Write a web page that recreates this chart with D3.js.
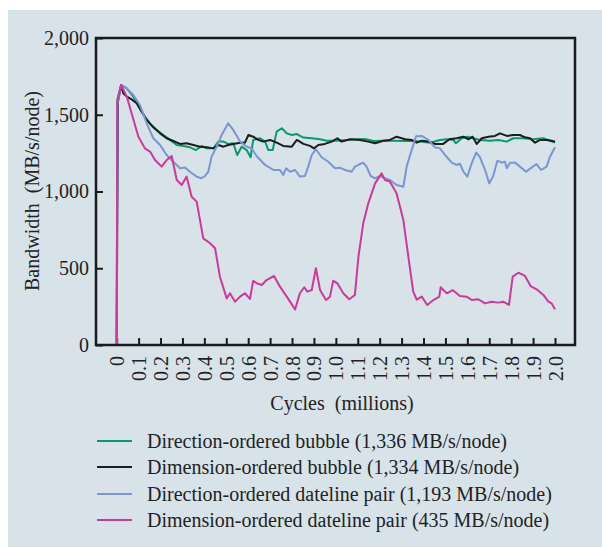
<!DOCTYPE html>
<html><head><meta charset="utf-8">
<script src="https://cdn.jsdelivr.net/npm/d3@7"></script>
<style>
html,body{margin:0;padding:0;background:#fff;}
svg{display:block;}
text{font-family:"Liberation Serif","Times New Roman",serif;fill:#222;}
</style></head>
<body>
<svg id="chart" width="602" height="547"></svg>
<script>
const xTicks = [0,0.1,0.2,0.3,0.4,0.5,0.6,0.7,0.8,0.9,1.0,1.1,1.2,1.3,1.4,1.5,1.6,1.7,1.8,1.9,2.0];
const xTickLabels = ["0","0.1","0.2","0.3","0.4","0.5","0.6","0.7","0.8","0.9","1.0","1.1","1.2","1.3","1.4","1.5","1.6","1.7","1.8","1.9","2.0"];
const yTicks = [0,500,1000,1500,2000];
const yTickLabels = ["0","500","1,000","1,500","2,000"];
const seriesNames = [
  "Direction-ordered bubble (1,336 MB/s/node)",
  "Dimension-ordered bubble (1,334 MB/s/node)",
  "Direction-ordered dateline pair (1,193 MB/s/node)",
  "Dimension-ordered dateline pair (435 MB/s/node)"
];
const seriesColors = ["#08996c","#1c1c1c","#7b96d0","#cf3898"];

const dirBubble = [[0,0],[0.003,1600],[0.02,1694],[0.046,1672],[0.076,1618],[0.106,1542],[0.129,1487],[0.152,1444],[0.183,1401],[0.213,1368],[0.243,1336],[0.274,1303],[0.304,1297],[0.334,1288],[0.362,1270],[0.388,1297],[0.411,1281],[0.441,1281],[0.464,1325],[0.487,1325],[0.509,1310],[0.532,1314],[0.550,1238],[0.570,1292],[0.593,1270],[0.611,1223],[0.623,1336],[0.654,1347],[0.677,1325],[0.692,1270],[0.712,1270],[0.730,1390],[0.753,1412],[0.776,1379],[0.799,1368],[0.822,1374],[0.852,1351],[0.890,1347],[0.928,1340],[0.958,1331],[1.004,1331],[1.049,1336],[1.095,1340],[1.133,1342],[1.171,1329],[1.217,1331],[1.262,1331],[1.308,1329],[1.338,1330],[1.384,1325],[1.430,1318],[1.475,1336],[1.506,1340],[1.536,1336],[1.548,1314],[1.574,1347],[1.600,1357],[1.627,1347],[1.658,1336],[1.703,1331],[1.741,1336],[1.780,1325],[1.810,1347],[1.855,1347],[1.901,1340],[1.947,1347],[1.977,1331],[2.0,1318]];

const dimBubble = [[0,0],[0.005,1580],[0.02,1690],[0.03,1640],[0.046,1618],[0.068,1600],[0.091,1575],[0.114,1520],[0.137,1466],[0.167,1418],[0.198,1379],[0.228,1347],[0.258,1329],[0.289,1310],[0.319,1314],[0.350,1303],[0.380,1292],[0.411,1288],[0.441,1281],[0.464,1303],[0.487,1292],[0.509,1303],[0.532,1310],[0.563,1318],[0.585,1318],[0.601,1368],[0.623,1357],[0.646,1336],[0.669,1325],[0.700,1336],[0.730,1318],[0.760,1297],[0.799,1292],[0.822,1336],[0.852,1310],[0.882,1297],[0.900,1281],[0.920,1303],[0.950,1310],[0.981,1325],[1.007,1347],[1.026,1325],[1.065,1340],[1.110,1336],[1.148,1325],[1.179,1314],[1.217,1331],[1.247,1336],[1.277,1357],[1.316,1340],[1.346,1336],[1.369,1318],[1.392,1331],[1.422,1325],[1.452,1310],[1.490,1310],[1.518,1340],[1.551,1347],[1.582,1357],[1.605,1340],[1.624,1357],[1.643,1310],[1.666,1347],[1.696,1357],[1.726,1362],[1.749,1379],[1.780,1362],[1.810,1368],[1.840,1368],[1.863,1353],[1.886,1347],[1.909,1318],[1.932,1336],[1.962,1336],[1.985,1331],[2.0,1325]];

const dirDateline = [[0,0],[0.003,1560],[0.02,1694],[0.046,1672],[0.076,1629],[0.106,1564],[0.137,1444],[0.167,1347],[0.198,1303],[0.228,1238],[0.258,1194],[0.289,1151],[0.312,1157],[0.334,1129],[0.365,1097],[0.385,1086],[0.403,1101],[0.418,1129],[0.433,1227],[0.456,1292],[0.479,1368],[0.509,1444],[0.532,1401],[0.563,1325],[0.593,1292],[0.616,1280],[0.639,1230],[0.677,1173],[0.715,1140],[0.745,1140],[0.760,1108],[0.773,1151],[0.791,1129],[0.814,1140],[0.836,1097],[0.859,1101],[0.874,1162],[0.890,1238],[0.909,1275],[0.935,1223],[0.966,1194],[0.996,1151],[1.019,1155],[1.042,1140],[1.072,1129],[1.087,1162],[1.110,1179],[1.125,1188],[1.140,1162],[1.159,1101],[1.179,1086],[1.201,1101],[1.224,1086],[1.247,1075],[1.277,1042],[1.308,1031],[1.323,1162],[1.346,1270],[1.366,1360],[1.392,1362],[1.422,1336],[1.452,1288],[1.475,1281],[1.498,1238],[1.529,1188],[1.551,1173],[1.566,1181],[1.582,1129],[1.600,1097],[1.620,1184],[1.640,1253],[1.658,1223],[1.681,1140],[1.700,1053],[1.718,1101],[1.737,1201],[1.757,1188],[1.772,1194],[1.780,1151],[1.795,1188],[1.818,1188],[1.840,1162],[1.868,1129],[1.894,1157],[1.916,1179],[1.936,1140],[1.962,1162],[1.977,1227],[2.0,1288]];

const dimDateline = [[0,0],[0.003,1585],[0.02,1694],[0.046,1618],[0.068,1510],[0.099,1357],[0.129,1281],[0.152,1260],[0.175,1205],[0.205,1162],[0.228,1205],[0.251,1231],[0.274,1075],[0.297,1042],[0.319,1097],[0.342,966],[0.365,934],[0.395,695],[0.426,663],[0.449,630],[0.471,445],[0.502,304],[0.517,337],[0.540,282],[0.563,315],[0.585,337],[0.608,300],[0.623,419],[0.639,402],[0.662,391],[0.684,423],[0.718,450],[0.745,380],[0.776,315],[0.814,232],[0.836,337],[0.856,376],[0.870,348],[0.890,358],[0.909,500],[0.928,358],[0.955,293],[0.973,315],[0.988,419],[1.007,402],[1.034,337],[1.061,298],[1.087,326],[1.103,575],[1.125,793],[1.148,923],[1.179,1053],[1.209,1118],[1.224,1075],[1.247,1064],[1.277,988],[1.308,814],[1.335,532],[1.353,348],[1.369,295],[1.392,315],[1.417,261],[1.445,293],[1.472,315],[1.478,376],[1.506,337],[1.533,358],[1.566,319],[1.597,315],[1.620,293],[1.650,298],[1.681,271],[1.711,282],[1.741,276],[1.764,282],[1.790,261],[1.807,445],[1.833,471],[1.863,450],[1.889,384],[1.916,363],[1.947,326],[1.970,282],[1.985,271],[2.0,232]];

const allSeries = [dirBubble, dimBubble, dirDateline, dimDateline];

const svg = d3.select("#chart");
// background panel
svg.append("rect").attr("x",8).attr("y",10).attr("width",594).attr("height",537).attr("fill","#d8e2e9");

const frame = {left:96, right:575, top:38, bottom:345};
const x = d3.scaleLinear().domain([0,2]).range([116.7,555]);
const y = d3.scaleLinear().domain([0,2000]).range([frame.bottom, frame.top]);

// y axis
const yAxis = d3.axisLeft(y).tickValues(yTicks).tickSizeInner(-7).tickSizeOuter(0).tickPadding(7)
  .tickFormat((d,i)=>yTickLabels[i]);
const gy = svg.append("g").attr("transform",`translate(${frame.left},0)`).call(yAxis);
gy.select(".domain").remove();
gy.selectAll(".tick line").attr("stroke","#1a1a1a").attr("stroke-width",2);
gy.selectAll(".tick text").attr("font-family","Liberation Serif, serif").attr("font-size",20).attr("fill","#222");

// x axis
const xAxis = d3.axisBottom(x).tickValues(xTicks).tickSizeInner(-7).tickSizeOuter(0)
  .tickFormat((d,i)=>xTickLabels[i]);
const gx = svg.append("g").attr("transform",`translate(0,${frame.bottom})`).call(xAxis);
gx.select(".domain").remove();
gx.selectAll(".tick line").attr("stroke","#1a1a1a").attr("stroke-width",2);
gx.selectAll(".tick text")
  .attr("font-family","Liberation Serif, serif").attr("font-size",20).attr("fill","#222")
  .attr("text-anchor","end").attr("transform","rotate(-90)")
  .attr("x",-11).attr("y",0).attr("dy","0.35em");

// lines
const line = d3.line().x(d=>x(d[0])).y(d=>y(d[1]));
allSeries.forEach((s,i)=>{
  svg.append("path").datum(s).attr("d",line).attr("fill","none")
    .attr("stroke",seriesColors[i]).attr("stroke-width",2).attr("stroke-linejoin","round");
});

// frame
svg.append("rect").attr("x",frame.left).attr("y",frame.top)
  .attr("width",frame.right-frame.left).attr("height",frame.bottom-frame.top)
  .attr("fill","none").attr("stroke","#1a1a1a").attr("stroke-width",2.5);

// axis titles
svg.append("text").attr("x",342).attr("y",410).attr("text-anchor","middle")
  .attr("font-size",20).style("white-space","pre").text("Cycles  (millions)");
svg.append("text").attr("transform","translate(39,191) rotate(-90)").attr("text-anchor","middle")
  .attr("font-size",20).style("white-space","pre").text("Bandwidth  (MB/s/node)");

// legend
const legRows = [441,467,494,520];
seriesNames.forEach((name,i)=>{
  svg.append("line").attr("x1",97).attr("x2",132).attr("y1",legRows[i]).attr("y2",legRows[i])
    .attr("stroke",seriesColors[i]).attr("stroke-width",2);
  svg.append("text").attr("x",147).attr("y",legRows[i]).attr("dy","0.33em")
    .attr("font-size",20).text(name);
});
</script>
</body></html>
